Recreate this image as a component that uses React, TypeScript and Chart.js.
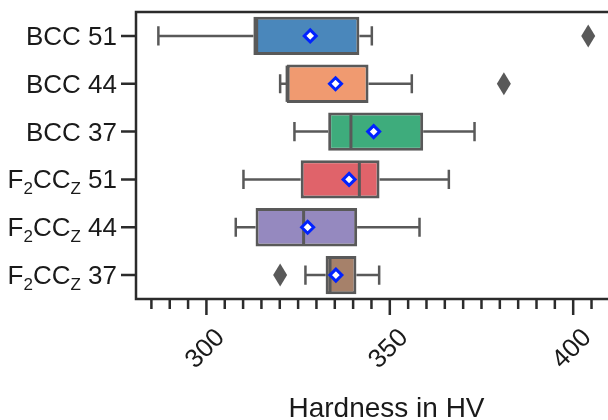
import { useEffect, useRef } from 'react';
import { Chart, registerables } from 'chart.js';

Chart.register(...registerables);

// Categories ("_" marks a one-character subscript)
const categories = ['BCC 51', 'BCC 44', 'BCC 37', 'F_2CC_Z 51', 'F_2CC_Z 44', 'F_2CC_Z 37'];
const whiskerLow = [286.9, 320.1, 324.0, 310.1, 308.0, 327.0];
const q1 = [312.8, 321.9, 333.2, 325.7, 313.4, 332.5];
const median = [313.7, 322.0, 339.4, 341.7, 326.5, 333.7];
const q3 = [341.7, 344.2, 359.1, 347.2, 341.1, 340.9];
const whiskerHigh = [345.1, 356.0, 373.1, 366.1, 358.1, 347.1];
const means = [328.3, 335.2, 345.6, 338.9, 327.6, 335.3];
const outliers = [[404.1], [381.1], [], [], [], [320.1]];
const xTickLabels = [300, 350, 400];
const xMinorStep = 5;
const xMin = 280.8;
const xMax = 417.4;
const axisTitle = 'Hardness in HV';
const boxColors = ['#4a87bb', '#f09a70', '#3eac7c', '#e0636a', '#9589bf', '#a6816a'];

const FONT = '"Liberation Sans", Arial, Helvetica, sans-serif';
const LINE = '#595959';
const AXIS = '#2b2b2b';
const TEXT = '#1a1a1a';

function parseLabel(s: string) {
  const parts: { text: string; sub: boolean }[] = [];
  let buf = '';
  for (let i = 0; i < s.length; i++) {
    if (s[i] === '_' && i + 1 < s.length) {
      if (buf) parts.push({ text: buf, sub: false });
      buf = '';
      parts.push({ text: s[i + 1], sub: true });
      i++;
    } else buf += s[i];
  }
  if (buf) parts.push({ text: buf, sub: false });
  return parts;
}

const boxPlugin = {
  id: 'boxExtras',
  afterDatasetsDraw(chart: any) {
    const ctx = chart.ctx as CanvasRenderingContext2D;
    const xs = chart.scales.x;
    const ys = chart.scales.y;
    const area = chart.chartArea;
    const band = Math.abs(ys.getPixelForValue(1) - ys.getPixelForValue(0));
    const half = band * 0.8 / 2;
    ctx.save();
    ctx.lineCap = 'butt';
    categories.forEach((_, i) => {
      const y = ys.getPixelForValue(i);
      const xl = xs.getPixelForValue(whiskerLow[i]);
      const x1 = xs.getPixelForValue(q1[i]);
      const x3 = xs.getPixelForValue(q3[i]);
      const xh = xs.getPixelForValue(whiskerHigh[i]);
      const xm = xs.getPixelForValue(median[i]);
      ctx.strokeStyle = LINE;
      ctx.lineWidth = 2.5;
      ctx.beginPath();
      ctx.moveTo(xl, y); ctx.lineTo(x1, y);
      ctx.moveTo(x3, y); ctx.lineTo(xh, y);
      ctx.moveTo(xl, y - half / 2); ctx.lineTo(xl, y + half / 2);
      ctx.moveTo(xh, y - half / 2); ctx.lineTo(xh, y + half / 2);
      ctx.stroke();
      ctx.lineWidth = 3;
      ctx.beginPath();
      ctx.moveTo(xm, y - half + 1); ctx.lineTo(xm, y + half - 1);
      ctx.stroke();
      // outliers
      ctx.fillStyle = LINE;
      outliers[i].forEach((v) => {
        const ox = xs.getPixelForValue(v);
        ctx.beginPath();
        ctx.moveTo(ox, y - 11.5);
        ctx.lineTo(ox + 7, y);
        ctx.lineTo(ox, y + 11.5);
        ctx.lineTo(ox - 7, y);
        ctx.closePath();
        ctx.fill();
      });
      // mean
      const mx = xs.getPixelForValue(means[i]);
      const r = 6;
      ctx.beginPath();
      ctx.moveTo(mx, y - r);
      ctx.lineTo(mx + r, y);
      ctx.lineTo(mx, y + r);
      ctx.lineTo(mx - r, y);
      ctx.closePath();
      ctx.fillStyle = '#ffffff';
      ctx.fill();
      ctx.strokeStyle = '#0022ff';
      ctx.lineWidth = 3;
      ctx.stroke();
    });

    // frame
    ctx.strokeStyle = AXIS;
    ctx.lineWidth = 2.5;
    ctx.strokeRect(area.left, area.top, area.right - area.left, area.bottom - area.top);

    // y ticks and labels
    ctx.beginPath();
    categories.forEach((_, i) => {
      const y = ys.getPixelForValue(i);
      ctx.moveTo(area.left - 15, y);
      ctx.lineTo(area.left, y);
    });
    ctx.stroke();
    ctx.fillStyle = TEXT;
    ctx.textBaseline = 'alphabetic';
    ctx.textAlign = 'left';
    categories.forEach((lab, i) => {
      const y = ys.getPixelForValue(i) + 9;
      const parts = parseLabel(lab);
      let total = 0;
      parts.forEach((p) => {
        ctx.font = (p.sub ? '17px ' : '26px ') + FONT;
        total += ctx.measureText(p.text).width;
      });
      let x = area.left - 19 - total;
      parts.forEach((p) => {
        ctx.font = (p.sub ? '17px ' : '26px ') + FONT;
        ctx.fillText(p.text, x, p.sub ? y + 5.5 : y);
        x += ctx.measureText(p.text).width;
      });
    });

    // x ticks
    ctx.beginPath();
    for (let v = Math.ceil(xMin / xMinorStep) * xMinorStep; v <= xMax; v += xMinorStep) {
      const x = xs.getPixelForValue(v);
      const len = xTickLabels.includes(v) ? 16 : 10;
      ctx.moveTo(x, area.bottom);
      ctx.lineTo(x, area.bottom + len);
    }
    ctx.stroke();

    // x tick labels rotated
    ctx.font = '26px ' + FONT;
    ctx.textAlign = 'center';
    ctx.textBaseline = 'middle';
    xTickLabels.forEach((v) => {
      const x = xs.getPixelForValue(v);
      ctx.save();
      ctx.translate(x - 1, area.bottom + 50);
      ctx.rotate(-Math.PI / 4);
      ctx.fillText(String(v), 0, 0);
      ctx.restore();
    });

    // axis title
    ctx.font = '28px ' + FONT;
    ctx.textAlign = 'center';
    ctx.textBaseline = 'alphabetic';
    ctx.fillText(axisTitle, (area.left + area.right) / 2, area.bottom + 118);
    ctx.restore();
  },
};

export default function App() {
  const ref = useRef<HTMLCanvasElement>(null);
  useEffect(() => {
    if (!ref.current) return;
    const chart = new Chart(ref.current, {
      type: 'bar',
      data: {
        labels: categories,
        datasets: [
          {
            data: categories.map((_, i) => [q1[i], q3[i]]) as any,
            backgroundColor: boxColors,
            borderColor: LINE,
            borderWidth: 3,
            borderSkipped: false,
            barPercentage: 0.8,
            categoryPercentage: 1,
          },
        ],
      },
      options: {
        indexAxis: 'y',
        animation: false,
        responsive: false,
        maintainAspectRatio: false,
        layout: { padding: { left: 136, top: 12, right: 3, bottom: 121 } },
        plugins: { legend: { display: false }, tooltip: { enabled: false } },
        scales: {
          x: { type: 'linear', min: xMin, max: xMax, display: false },
          y: { type: 'category', display: false, offset: true },
        },
      },
      plugins: [boxPlugin],
    });
    return () => chart.destroy();
  }, []);
  return (
    <div style={{ position: 'fixed', left: 0, top: 0, width: 608, height: 420, overflow: 'hidden', background: '#fff' }}>
      <canvas ref={ref} width={640} height={420} style={{ display: 'block', width: 640, height: 420 }} />
    </div>
  );
}
